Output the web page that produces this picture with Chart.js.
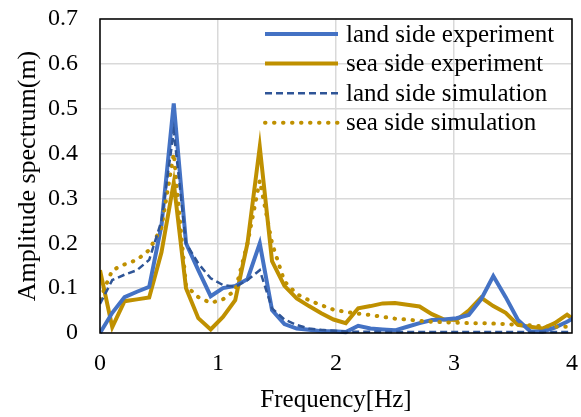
<!DOCTYPE html>
<html>
<head>
<meta charset="utf-8">
<script src="https://cdn.jsdelivr.net/npm/chart.js@4.4.1/dist/chart.umd.min.js"></script>
<style>
  html, body { margin: 0; padding: 0; background: #fff; }
  #wrap { width: 581px; height: 417px; }
</style>
</head>
<body>
<div id="wrap"><canvas id="myChart"></canvas></div>
<script>
// frequency axis (Hz) and amplitude spectra (m)
const freq = [0, 0.104, 0.208, 0.313, 0.417, 0.521, 0.625, 0.729, 0.833, 0.938,
    1.042, 1.146, 1.25, 1.354, 1.458, 1.563, 1.667, 1.771, 1.875, 1.979,
    2.083, 2.188, 2.292, 2.396, 2.5, 2.604, 2.708, 2.813, 2.917, 3.021,
    3.125, 3.229, 3.333, 3.438, 3.542, 3.646, 3.75, 3.854, 3.958, 4.063];
const landExp = [0, 0.045, 0.08, 0.092, 0.103, 0.24, 0.512, 0.2, 0.14, 0.082,
    0.1, 0.105, 0.12, 0.2, 0.051, 0.02, 0.01, 0.007, 0.004, 0.004,
    0.002, 0.016, 0.01, 0.008, 0.006, 0.014, 0.022, 0.029, 0.03, 0.033,
    0.04, 0.075, 0.127, 0.08, 0.029, 0.004, 0.003, 0.012, 0.025, 0.04];
const seaExp = [0.14, 0.013, 0.071, 0.075, 0.079, 0.18, 0.335, 0.1, 0.033, 0.008,
    0.036, 0.073, 0.2, 0.415, 0.16, 0.105, 0.077, 0.06, 0.044, 0.03,
    0.022, 0.055, 0.06, 0.066, 0.067, 0.063, 0.059, 0.042, 0.03, 0.029,
    0.05, 0.079, 0.06, 0.045, 0.018, 0.014, 0.01, 0.022, 0.041, 0.02];
const landSim = [0.065, 0.118, 0.13, 0.14, 0.163, 0.25, 0.45, 0.2, 0.155, 0.122,
    0.107, 0.103, 0.118, 0.14, 0.055, 0.03, 0.018, 0.01, 0.007, 0.005,
    0.003, 0.003, 0.003, 0.002, 0.002, 0.002, 0.002, 0.002, 0.002, 0.002,
    0.002, 0.002, 0.002, 0.002, 0.002, 0.002, 0.002, 0.002, 0.002, 0.002];
const seaSim = [0.075, 0.14, 0.153, 0.163, 0.185, 0.235, 0.4, 0.105, 0.08, 0.067,
    0.075, 0.095, 0.2, 0.34, 0.2, 0.115, 0.087, 0.073, 0.062, 0.052,
    0.047, 0.043, 0.04, 0.036, 0.032, 0.03, 0.027, 0.025, 0.024, 0.023,
    0.022, 0.022, 0.021, 0.02, 0.018, 0.017, 0.015, 0.014, 0.014, 0.014];
const xTicks = [0, 1, 2, 3, 4];
const yTicks = [0, 0.1, 0.2, 0.3, 0.4, 0.5, 0.6, 0.7];

const serif = '"Liberation Serif", "Times New Roman", serif';

function pts(values) {
    return freq.map((f, i) => ({x: f, y: values[i]}));
}

// plot frame + legend drawn by hand (lines and labels at the top right)
const frameLegend = {
    id: 'frameLegend',
    afterDraw(chart) {
        const ctx = chart.ctx;
        const a = chart.chartArea;
        ctx.save();
        ctx.strokeStyle = '#000';
        ctx.lineWidth = 1.5;
        ctx.strokeRect(a.left, a.top, a.right - a.left, a.bottom - a.top);

        ctx.font = '25px ' + serif;
        ctx.textBaseline = 'middle';
        chart.data.datasets.forEach((ds, i) => {
            const y = 34 + i * 29.6;
            ctx.beginPath();
            ctx.setLineDash(ds.borderDash || []);
            ctx.lineCap = ds.borderCapStyle || 'butt';
            ctx.lineWidth = ds.borderWidth;
            ctx.strokeStyle = ds.borderColor;
            ctx.moveTo(265, y);
            ctx.lineTo(338, y);
            ctx.stroke();
            ctx.setLineDash([]);
            ctx.fillStyle = '#000';
            ctx.fillText(ds.label, 346, y + 1);
        });
        ctx.restore();
    }
};

const ctx = document.getElementById('myChart').getContext('2d');
const myChart = new Chart(ctx, {
    type: 'scatter',
    plugins: [frameLegend],
    data: {
        datasets: [{
            label: 'land side experiment',
            data: pts(landExp),
            borderColor: '#4472C4',
            borderWidth: 4,
            order: 3
        }, {
            label: 'sea side experiment',
            data: pts(seaExp),
            borderColor: '#BF9000',
            borderWidth: 4,
            order: 4
        }, {
            label: 'land side simulation',
            data: pts(landSim),
            borderColor: '#2F5597',
            borderWidth: 2.5,
            borderDash: [7, 4],
            order: 1
        }, {
            label: 'sea side simulation',
            data: pts(seaSim),
            borderColor: '#BF9000',
            borderWidth: 4,
            borderDash: [0.5, 8.5],
            borderCapStyle: 'round',
            order: 2
        }]
    },
    options: {
        responsive: true,
        maintainAspectRatio: false,
        animation: false,
        showLine: true,
        datasets: {
            scatter: {
                pointRadius: 0,
                pointHoverRadius: 0,
                fill: false,
                clip: {left: 0, right: 0, top: 5, bottom: 3}
            }
        },
        layout: {padding: {left: 0, top: 19, right: 9, bottom: 0}},
        plugins: {
            legend: {display: false},
            tooltip: {enabled: false}
        },
        scales: {
            x: {
                type: 'linear',
                min: 0,
                max: 4,
                afterFit: s => { s.height = 84; },
                afterBuildTicks: s => { s.ticks = xTicks.map(v => ({value: v})); },
                grid: {color: '#D9D9D9', lineWidth: 1.5, tickLength: 16, tickColor: 'rgba(0,0,0,0)'},
                border: {display: false},
                ticks: {
                    color: '#000',
                    padding: 0,
                    font: {family: serif, size: 24},
                    callback: v => String(v)
                },
                title: {
                    display: true,
                    text: 'Frequency[Hz]',
                    color: '#000',
                    font: {family: serif, size: 25},
                    padding: {top: 0, bottom: 2}
                }
            },
            y: {
                type: 'linear',
                min: 0,
                max: 0.7,
                afterFit: s => { s.width = 100; },
                afterBuildTicks: s => { s.ticks = yTicks.map(v => ({value: v})); },
                grid: {color: '#D9D9D9', lineWidth: 1.5, tickLength: 22, tickColor: 'rgba(0,0,0,0)'},
                border: {display: false},
                ticks: {
                    color: '#000',
                    padding: 0,
                    font: {family: serif, size: 24},
                    callback: v => String(v)
                },
                title: {
                    display: true,
                    text: 'Amplitude spectrum(m)',
                    color: '#000',
                    font: {family: serif, size: 26},
                    padding: {top: 13, bottom: 0}
                }
            }
        }
    }
});
</script>
</body>
</html>
